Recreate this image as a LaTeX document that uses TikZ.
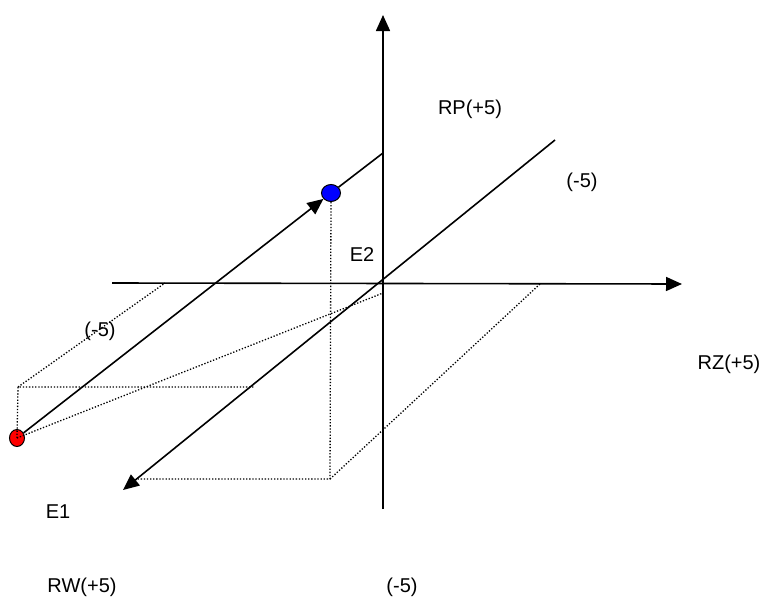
\documentclass[tikz,border=0pt]{standalone}
\usepackage{fontspec}
\setmainfont{Liberation Sans}
\usetikzlibrary{arrows.meta,shapes.geometric}
\begin{document}
\begin{tikzpicture}[x=1pt,y=-1pt,
  axis/.style={line width=1.6pt},
  arr/.style={-{Triangle[length=16pt,width=14pt]}},
  dots/.style={line width=1.3pt, dash pattern=on 1.3pt off 1.8pt},
  lbl/.style={font=\fontsize{20}{24}\selectfont, inner sep=0pt, anchor=center},
  dotnode/.style={ellipse, draw=black, line width=1pt, inner sep=0pt}
]
\useasboundingbox (0,0) rectangle (763,597);
% coordinates
\coordinate (vb) at (383,509);
\coordinate (vt) at (383,15);
\coordinate (hl) at (112,283);
\coordinate (hr) at (682,284);
\coordinate (dt) at (555,140);
\coordinate (db) at (123,490);
\coordinate (ue) at (383,153);
\coordinate (rt) at (18,387);
\coordinate (rh) at (255,387);
\coordinate (ra) at (165,283);
\coordinate (ro) at (383,293);
\coordinate (bb) at (330,479);
\coordinate (bl) at (138,479);
\coordinate (bz) at (540,284);
% dots
\node[dotnode, fill=red, minimum width=15pt, minimum height=17pt] (r) at (17,438) {};
\node[dotnode, fill=blue, minimum width=19pt, minimum height=17pt] (b) at (331,193) {};
% dotted construction lines
\draw[dots] (r.center) -- (rt) -- (rh);
\draw[dots] (rt) -- (ra);
\draw[dots] (r.center) -- (ro);
\draw[dots] (b.south) -- (bb) -- (bl);
\draw[dots] (bb) -- (bz);
% axes
\draw[axis,arr] (vb) -- (vt);
\draw[axis,arr] (hl) -- (hr);
\draw[axis,arr] (dt) -- (db);
\draw[axis,arr] (r) -- (b);
\draw[axis] (b) -- (ue);
% labels
\node[lbl] (lrp) at (470,109) {RP(+5)};
\node[lbl] (lm1) at (582,182) {(-5)};
\node[lbl] (le2) at (362,255) {E2};
\node[lbl] (lrz) at (729,364) {RZ(+5)};
\node[lbl] (lm2) at (100,331) {(-5)};
\node[lbl] (le1) at (58,512) {E1};
\node[lbl] (lrw) at (82,587) {RW(+5)};
\node[lbl] (lm3) at (402,587) {(-5)};
\end{tikzpicture}
\end{document}
